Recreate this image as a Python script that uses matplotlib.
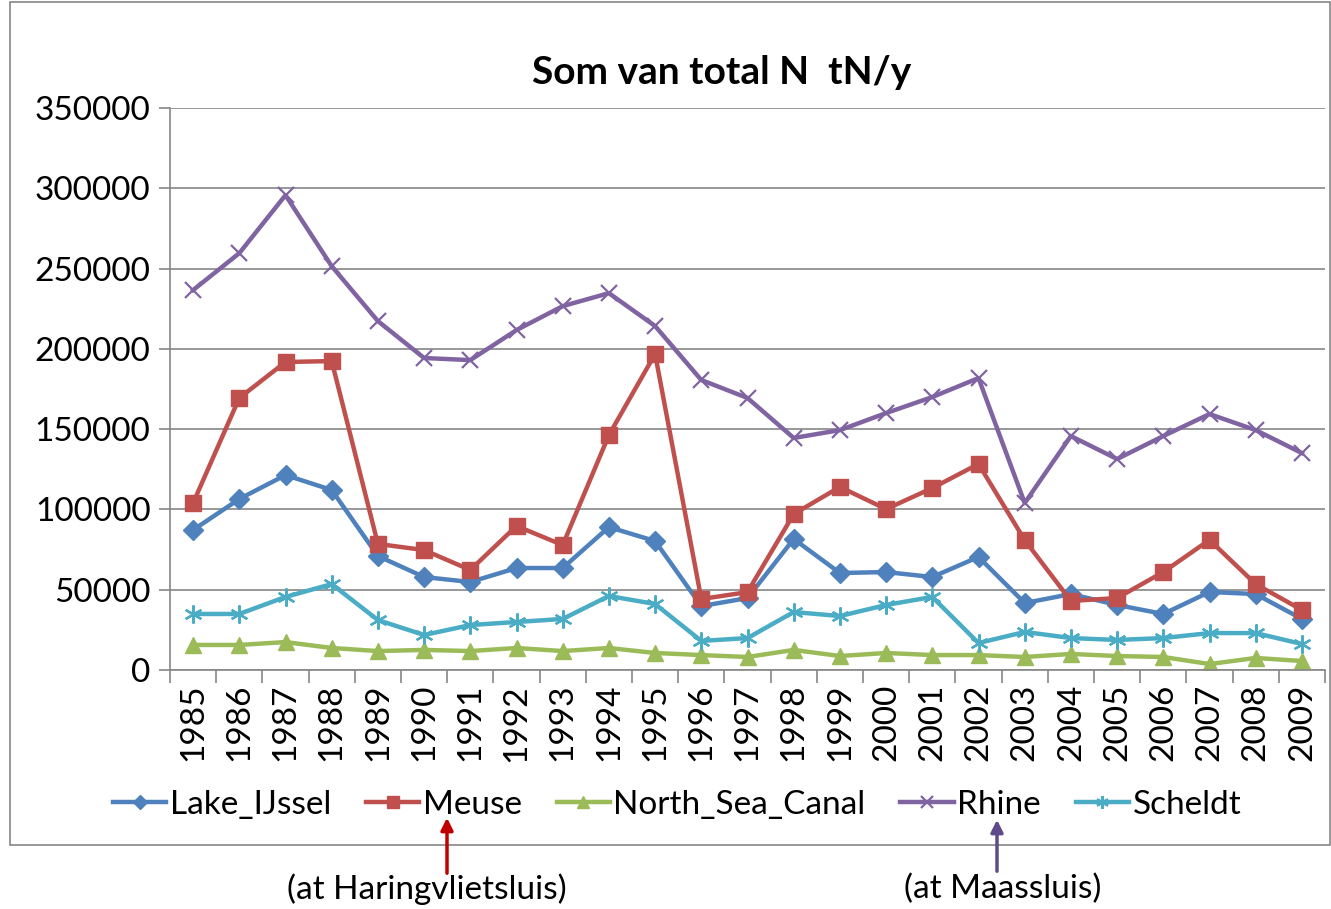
import matplotlib.pyplot as plt
from matplotlib.patches import Rectangle, FancyArrowPatch

years = list(range(1985, 2010))

lake_ijssel = [87200, 106500, 121400, 112100, 71000, 57900, 54800, 63500, 63500, 89000,
               80300, 39800, 44800, 81600, 60400, 61000, 57900, 70400, 41700, 47300,
               40500, 34900, 48600, 47300, 31800]
meuse = [104000, 169400, 191800, 192400, 78500, 74700, 62300, 89700, 77800, 146300,
         196800, 44200, 48500, 97100, 114000, 100200, 113300, 128300, 80900, 43000,
         44800, 61000, 81000, 53500, 37400]
north_sea_canal = [15600, 15600, 17400, 13700, 11800, 12500, 11800, 13700, 11800, 13700,
                   10600, 9300, 8100, 12500, 8700, 10600, 9300, 9300, 8100, 10000,
                   8700, 8100, 3700, 7500, 5600]
rhine = [236600, 259600, 295700, 251500, 217300, 194300, 193000, 211700, 226600, 234700,
         214200, 180600, 169400, 144500, 149400, 160000, 170000, 181800, 104000, 145700,
         131400, 145700, 159400, 149400, 135100]
scheldt = [34900, 34900, 45500, 53500, 31100, 21800, 28000, 29900, 31800, 46100,
           41100, 18100, 19900, 36100, 33600, 40500, 45500, 16800, 23700, 19900,
           18700, 19900, 23000, 23000, 16200]

series = [
    ("Lake_IJssel", lake_ijssel, "#4F81BD", "D", 10),
    ("Meuse", meuse, "#C0504D", "s", 12),
    ("North_Sea_Canal", north_sea_canal, "#9BBB59", "^", 12),
    ("Rhine", rhine, "#8064A2", "x", 12),
    ("Scheldt", scheldt, "#4BACC6", (6, 2, 0), 13),
]

plt.rcParams['font.family'] = ['Lato', 'DejaVu Sans']

fig = plt.figure(figsize=(13.31, 9.09), dpi=100)
W, H = 1331, 909

# outer chart border
fig.patches.append(Rectangle((10 / W, 1 - 845 / H), 1 - 11 / W, 845 / H - 0.002,
                             transform=fig.transFigure, fill=False,
                             edgecolor="#868686", linewidth=1.2))

ax = fig.add_axes([170 / W, 1 - 670 / H, 1155 / W, 562 / H])
x = list(range(len(years)))
for name, vals, col, mk, ms in series:
    mew = 1.6 if mk == "x" or isinstance(mk, tuple) else 1
    ax.plot(x, vals, color=col, linewidth=3.2, marker=mk, markersize=ms,
            markeredgewidth=mew, markeredgecolor=col, markerfacecolor=col, label=name)

ax.set_xlim(-0.5, len(years) - 0.5)
ax.set_ylim(0, 350000)
ax.set_yticks(range(0, 350001, 50000))
ax.set_yticklabels([str(v) for v in range(0, 350001, 50000)], fontsize=24)
ax.set_xticks(x)
ax.set_xticklabels([str(y) for y in years], rotation=90, fontsize=24)
ax.tick_params(axis='x', length=0, pad=10)
ax.set_xticks([i - 0.5 for i in range(len(years) + 1)], minor=True)
ax.tick_params(axis='x', which='minor', length=9, color="#868686", width=1.2)
ax.tick_params(axis='y', length=8, color="#868686", width=1.2, pad=6)
ax.grid(axis='y', color="#868686", linewidth=1.2)
ax.set_axisbelow(True)
for s in ("top", "right"):
    ax.spines[s].set_visible(False)
for s in ("left", "bottom"):
    ax.spines[s].set_color("#868686")
    ax.spines[s].set_linewidth(1.2)

fig.text(722 / W, 1 - 72 / H, "Som van total N  tN/y", ha="center", va="center",
         fontsize=28, fontweight="bold")

fig.legend(loc="center", bbox_to_anchor=(677 / W, 1 - 805 / H), ncol=5, frameon=False,
           fontsize=24, handlelength=1.6, handletextpad=0.1, columnspacing=1.05,
           markerscale=0.7)

# annotations with arrows
fig.text(427 / W, 1 - 889 / H, "(at Haringvlietsluis)", ha="center", va="center", fontsize=24)
fig.text(1003 / W, 1 - 889 / H, "(at Maassluis)", ha="center", va="center", fontsize=24)
fig.patches.append(FancyArrowPatch(
    (447 / W, 1 - 876 / H), (447 / W, 1 - 815 / H), transform=fig.transFigure,
    arrowstyle="-|>", mutation_scale=18, color="#C00000", linewidth=2.5))
fig.patches.append(FancyArrowPatch(
    (997 / W, 1 - 874 / H), (997 / W, 1 - 817 / H), transform=fig.transFigure,
    arrowstyle="-|>", mutation_scale=18, color="#5F4B8B", linewidth=2.5))

fig.savefig("out.png", dpi=100)
